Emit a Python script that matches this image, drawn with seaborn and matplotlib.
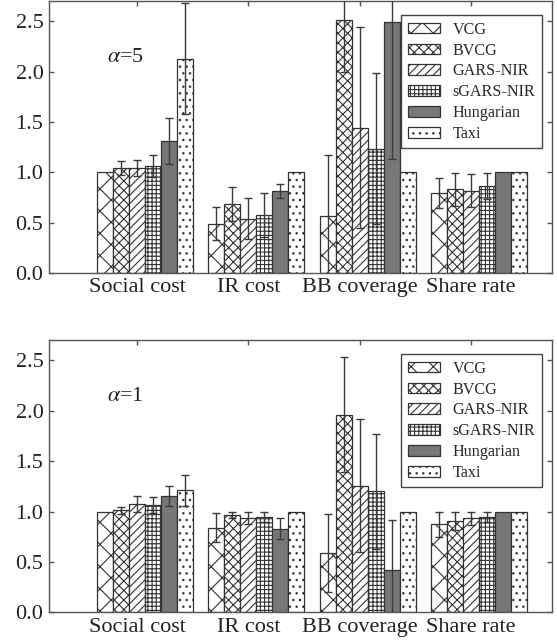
import numpy as np
import pandas as pd
import matplotlib
matplotlib.use("Agg")
import matplotlib.pyplot as plt
import seaborn as sns

# ---------------------------------------------------------------------------
# data (mean and error half-width per method/metric)
# ---------------------------------------------------------------------------
metrics = ["Social cost", "IR cost", "BB coverage", "Share rate"]
methods = ["VCG", "BVCG", "GARS-NIR", "sGARS-NIR", "Hungarian", "Taxi"]

# alpha = 5 (top panel), rows follow `methods`, columns follow `metrics`
alpha5_mean = [
    [1.00, 0.49, 0.57, 0.79],
    [1.04, 0.685, 2.51, 0.83],
    [1.04, 0.54, 1.445, 0.815],
    [1.06, 0.575, 1.235, 0.86],
    [1.31, 0.815, 2.49, 1.00],
    [2.13, 1.00, 1.00, 1.00],
]
alpha5_err = [
    [0.00, 0.16, 0.60, 0.15],
    [0.07, 0.17, 0.51, 0.165],
    [0.08, 0.20, 1.00, 0.165],
    [0.11, 0.22, 0.75, 0.13],
    [0.23, 0.07, 1.36, 0.00],
    [0.555, 0.00, 0.00, 0.00],
]

# alpha = 1 (bottom panel)
alpha1_mean = [
    [1.00, 0.84, 0.59, 0.875],
    [1.015, 0.965, 1.96, 0.91],
    [1.08, 0.935, 1.255, 0.935],
    [1.065, 0.945, 1.20, 0.95],
    [1.155, 0.83, 0.42, 1.00],
    [1.21, 1.00, 1.00, 1.00],
]
alpha1_err = [
    [0.00, 0.145, 0.39, 0.125],
    [0.035, 0.03, 0.57, 0.09],
    [0.08, 0.06, 0.66, 0.065],
    [0.08, 0.05, 0.57, 0.05],
    [0.10, 0.105, 0.50, 0.00],
    [0.155, 0.00, 0.00, 0.00],
]

# styling (one hatch per method, Hungarian is solid grey)
# hatch tile is one inch = 200 px here; diagonals get 2/(6n) spacing
hatches = ["xxx", "x" * 7, "/" * 8, "+" * 8, "", "....."]
palette = {"VCG": "white", "BVCG": "white", "GARS-NIR": "white",
           "sGARS-NIR": "white", "Hungarian": "#777777", "Taxi": "white"}
EDGE = "#333333"

sns.set_theme(style="ticks", rc={
    "axes.edgecolor": "#555555",
    "axes.linewidth": 0.5,
    "hatch.linewidth": 0.4,
    "xtick.color": "#555555",
    "ytick.color": "#555555",
    "xtick.labelcolor": "#222222",
    "ytick.labelcolor": "#222222",
})
plt.rcParams["font.family"] = ["Liberation Serif", "DejaVu Serif"]
plt.rcParams["mathtext.fontset"] = "stix"


def long_frame(means):
    rows = []
    for method, row in zip(methods, means):
        for metric, v in zip(metrics, row):
            rows.append({"metric": metric, "method": method, "value": v})
    return pd.DataFrame(rows)


def draw_panel(ax, means, errs, tag, show_legend=True):
    df = long_frame(means)
    sns.barplot(data=df, x="metric", y="value", hue="method",
                order=metrics, hue_order=methods, palette=palette,
                width=0.8625, saturation=1, errorbar=None,
                edgecolor=EDGE, linewidth=0.45, legend=False, ax=ax)

    bar_groups = list(ax.containers)
    for cont, h, row in zip(bar_groups, hatches, errs):
        for bar, e in zip(cont.patches, row):
            bar.set_hatch(h)
            if e > 0:
                ax.errorbar(bar.get_x() + bar.get_width() / 2, bar.get_height(),
                            yerr=e, fmt="none", ecolor="#3a3a3a",
                            elinewidth=0.5, capsize=1.3, capthick=0.5, zorder=4)

    ax.set_ylim(0, 2.7)
    ax.set_yticks(np.arange(0, 2.51, 0.5))
    ax.set_xlim(-0.8625, 3.657)
    ax.set_xticks(np.arange(len(metrics)) - 0.072, metrics)
    ax.set(xlabel="", ylabel="")
    ax.tick_params(direction="in", top=True, right=True, length=1.8,
                   width=0.5, labelsize=8, pad=2)
    for s in ax.spines.values():
        s.set_visible(True)

    ax.text(-0.34, 2.14, tag, fontsize=8, va="center", ha="left", color="#222222")

    if show_legend:
        handles = [cont.patches[0] for cont in bar_groups]
        leg = ax.legend(handles, methods, loc="upper right",
                        bbox_to_anchor=(0.996, 0.978), fontsize=5.8,
                        handlelength=2.0, handleheight=0.65, handletextpad=0.8,
                        labelspacing=0.3, borderpad=0.4, fancybox=False,
                        framealpha=1, edgecolor="#444444")
        leg.get_frame().set_linewidth(0.5)


fig = plt.figure(figsize=(2.785, 3.21), dpi=200)
ax_top = fig.add_axes([0.088, 0.575, 0.903, 0.423])
ax_bot = fig.add_axes([0.088, 0.046, 0.903, 0.424])

draw_panel(ax_top, alpha5_mean, alpha5_err, r"$\alpha$=5")
draw_panel(ax_bot, alpha1_mean, alpha1_err, r"$\alpha$=1")

fig.savefig("out.png", dpi=200)
